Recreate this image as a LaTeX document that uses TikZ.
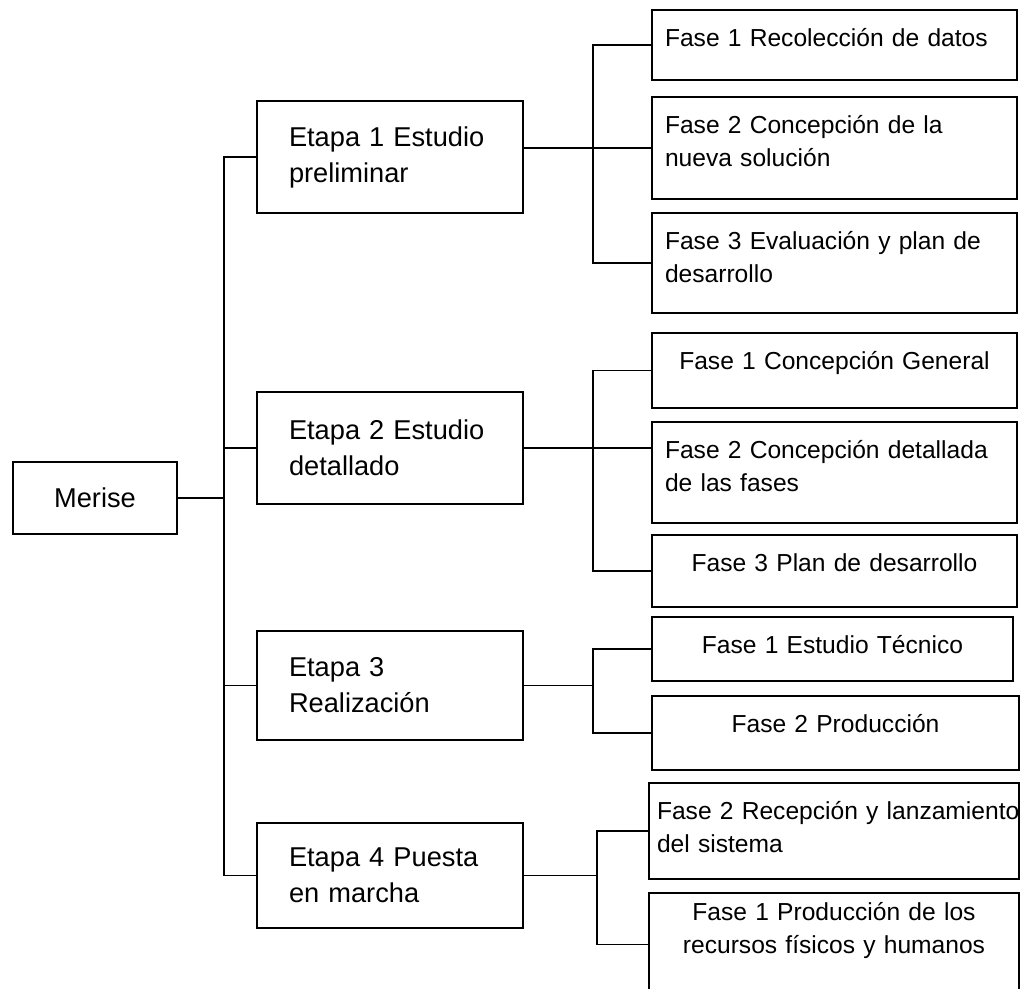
\documentclass[tikz,border=0pt]{standalone}
\usepackage{fontspec}
\setmainfont{Liberation Sans}
\tikzset{
  caja/.style={draw,line width=1.1pt},
  raiz/.style={caja,minimum width=3.28cm,minimum height=1.44cm,font=\fontsize{15.5}{20.5}\selectfont},
  etapa/.style={caja,minimum width=5.32cm,inner xsep=0.64cm,text width=4.04cm,align=left,font=\fontsize{15.5}{20.5}\selectfont},
  fase/.style={caja,inner xsep=0.26cm,inner ysep=0.1cm,text width=6.78cm,align=left,text height=0.62cm,text depth=#1,font=\fontsize{14}{18.8}\selectfont},
  enlace/.style={line width=1.1pt}
}
\begin{document}
\begin{tikzpicture}
\clip (0,0) rectangle (20.54,-19.76);
\coordinate (tr) at (4.48,0);
\coordinate (g1) at (11.86,0);
\coordinate (g4) at (11.94,0);

\node[raiz] (merise) at (1.90,-9.96) {Merise};

\node[etapa,minimum height=2.24cm] (e1) at (7.80,-3.14) {Etapa 1 Estudio\\preliminar};
\node[etapa,minimum height=2.24cm] (e2) at (7.80,-8.96) {Etapa 2 Estudio\\detallado};
\node[etapa,minimum height=2.18cm] (e3) at (7.80,-13.71) {Etapa 3\\Realización};
\node[etapa,minimum height=2.10cm] (e4) at (7.80,-17.51) {Etapa 4 Puesta\\en marcha};

\node[fase=0.58cm] (f11) at (16.69,-0.90) {Fase 1 Recolección de datos};
\node[fase=1.22cm] (f12) at (16.69,-2.96) {Fase 2 Concepción de la\\nueva solución};
\node[fase=1.18cm] (f13) at (16.69,-5.26) {Fase 3 Evaluación y plan de\\desarrollo};

\node[fase=0.68cm,align=center] (f21) at (16.69,-7.41) {Fase 1 Concepción General};
\node[fase=1.20cm] (f22) at (16.69,-9.45) {Fase 2 Concepción detallada\\de las fases};
\node[fase=0.62cm,align=center] (f23) at (16.69,-11.42) {Fase 3 Plan de desarrollo};

\node[fase=0.46cm,align=center,text width=6.70cm] (f31) at (16.65,-12.98) {Fase 1 Estudio Técnico};
\node[fase=0.66cm,align=center,text width=6.82cm] (f32) at (16.71,-14.66) {Fase 2 Producción};

\node[fase=1.10cm,inner xsep=0.16cm,text width=7.08cm] (f41) at (16.68,-16.62) {\mbox{Fase 2 Recepción y lanzamiento}\\del sistema};
\node[fase=1.42cm,text height=0.44cm,text width=6.88cm,align=center] (f42) at (16.68,-18.89) {Fase 1 Producción de los\\recursos físicos y humanos};

\draw[enlace] (merise.east) -- (merise.east -| tr);
\draw[enlace] (e1.west) -- (e1.west -| tr) -- (e4.west -| tr) -- (e4.west);
\draw[enlace] (e2.west) -- (e2.west -| tr);
\draw[enlace] (e3.west) -- (e3.west -| tr);

\draw[enlace] (f11.west) -- (f11.west -| g1) -- (f13.west -| g1) -- (f13.west);
\draw[enlace] (e1.east |- f12.west) -- (f12.west);

\draw[enlace] (f21.west) -- (f21.west -| g1) -- (f23.west -| g1) -- (f23.west);
\draw[enlace] (e2.east) -- (e2.east -| f22.west);

\draw[enlace] (f31.west) -- (f31.west -| g1) -- (f32.west -| g1) -- (f32.west);
\draw[enlace] (e3.east) -- (e3.east -| g1);

\draw[enlace] (f41.west) -- (f41.west -| g4) -- (f42.west -| g4) -- (f42.west);
\draw[enlace] (e4.east) -- (e4.east -| g4);
\end{tikzpicture}
\end{document}
